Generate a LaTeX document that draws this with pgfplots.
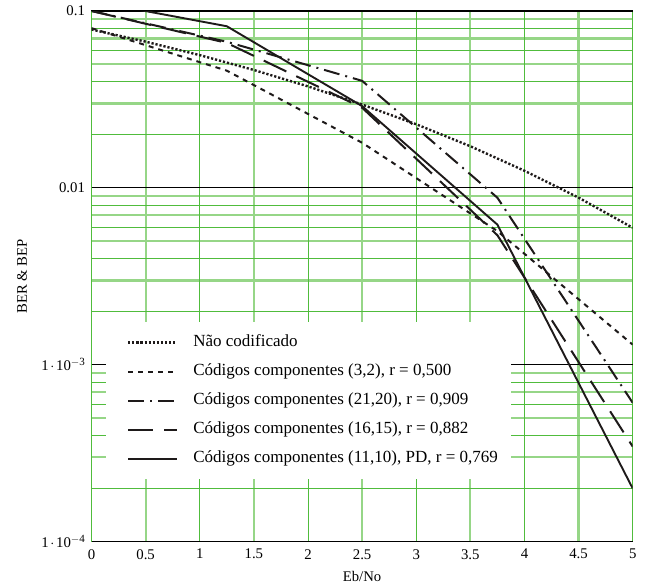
\documentclass[border=0pt]{standalone}
\usepackage{pgfplots}
\pgfplotsset{compat=1.18}
\usepackage{fontspec}
\setmainfont{Liberation Serif}
\definecolor{gridlight}{RGB}{150,214,135}
\definecolor{griddark}{RGB}{80,188,60}
\definecolor{curve}{RGB}{30,26,26}
\newcommand\ep[1]{1\kern0.12em$\cdot$\kern0.12em10\raisebox{0.7ex}{\fontsize{11bp}{11bp}\selectfont$-$#1}\hspace{8bp}}
\begin{document}
\begin{tikzpicture}
\path[use as bounding box] (0,0) rectangle (646bp,586bp);
\begin{axis}[
  at={(91.5bp,44.3bp)}, anchor=south west,
  scale only axis, width=541.2bp, height=530.7bp,
  xmin=0, xmax=5, ymode=log, ymin=1e-4, ymax=0.1,
  xtick={0.5,1.5,2.5,3.5,4.5},
  xticklabels={0.5,1.5,2.5,3.5,4.5},
  extra x ticks={0,1,2,3,4,5},
  extra x tick labels={0,1,2,3,4,5},
  extra x tick style={grid style={griddark, line width=0.9bp}, major grid style={griddark, line width=0.9bp}},
  ytick={3e-4,5e-4,7e-4,9e-4,3e-3,5e-3,7e-3,9e-3,3e-2,5e-2,7e-2,9e-2},
  yticklabels={},
  minor ytick={2e-4,4e-4,6e-4,8e-4,2e-3,4e-3,6e-3,8e-3,2e-2,4e-2,6e-2,8e-2},
  extra y ticks={1e-4,1e-3,1e-2,1e-1},
  extra y tick labels={\ep{4},\ep{3},0.01,0.1},
  extra y tick style={grid style={black, line width=0.9bp}, major grid style={black, line width=0.9bp}},
  xmajorgrids, ymajorgrids, yminorgrids,
  every axis grid/.style={color=gridlight, line width=2.2bp},
  major grid style={color=gridlight, line width=2.2bp},
  minor grid style={color=griddark, line width=0.9bp},
  tick style={draw=none},
  major tick length=0pt, minor tick length=0pt,
  axis line style={black, line width=1.1bp},
  ticklabel style={font=\fontsize{14.8bp}{17bp}\selectfont},
  xticklabel style={yshift=-4bp},
  yticklabel style={xshift=-3bp},
  label style={font=\fontsize{14.7bp}{17bp}\selectfont},
  xlabel={Eb/No},
  ylabel={BER \& BEP},
  xlabel style={at={(axis description cs:0.5,-0.066)}, anchor=center},
  ylabel style={at={(axis description cs:-0.1284,0.5)}, anchor=center},
  legend style={at={(axis description cs:0.0268,0.414)}, anchor=north west,
    draw=none, fill=white, font=\fontsize{17bp}{20bp}\selectfont,
    inner xsep=13bp, inner ysep=12.5bp, row sep=13bp, column sep=15bp,
    nodes={inner sep=0pt, text height=12bp, text depth=4bp}},
  legend cell align=left,
  legend image code/.code={\path (0bp,0bp); \draw[#1] (7.7bp,0bp) -- (56.7bp,0bp);},
]
\addplot[curve, line width=2.4bp, dash pattern=on 2.2bp off 1.9bp] coordinates {
(0,0.0786) (0.5,0.0671) (1,0.0563) (1.5,0.0464) (2,0.0375) (2.5,0.0296)
(3,0.0229) (3.5,0.0172) (4,0.0125) (4.5,0.00881) (5,0.00595)};
\addlegendentry{Não codificado}
\addplot[curve, line width=2bp, dash pattern=on 5bp off 5bp] coordinates {
(0,0.080) (1.25,0.046) (2.5,0.018) (3.75,0.0057) (5,0.0013)};
\addlegendentry{Códigos componentes (3,2), r = 0,500}
\addplot[curve, line width=2bp, dash pattern=on 16bp off 6bp on 2bp off 6bp] coordinates {
(0,0.1) (1.25,0.067) (2.5,0.0403) (3.75,0.0088) (5,0.00061)};
\addlegendentry{Códigos componentes (21,20), r = 0,909}
\addplot[curve, line width=2bp, dash pattern=on 25bp off 11bp] coordinates {
(0,0.1) (1.25,0.066) (2.5,0.0284) (3.75,0.0054) (5,0.000345)};
\addlegendentry{Códigos componentes (16,15), r = 0,882}
\addplot[curve, line width=1.9bp] coordinates {
(0,0.114) (1.25,0.082) (2.5,0.029) (3.75,0.0062) (5,0.0002)};
\addlegendentry{Códigos componentes (11,10), PD, r = 0,769}
\end{axis}
\end{tikzpicture}
\end{document}
